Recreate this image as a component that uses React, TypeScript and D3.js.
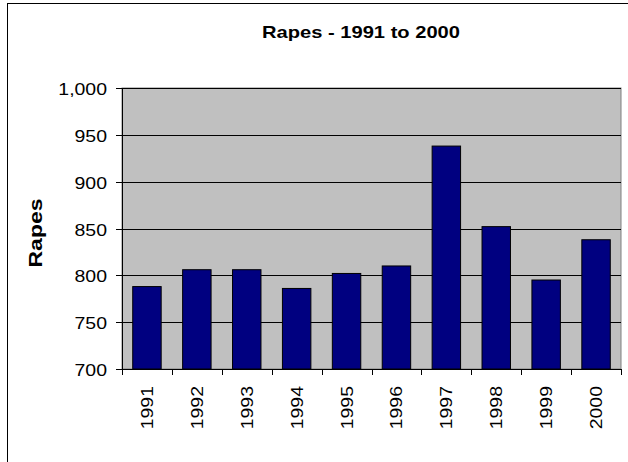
import React from 'react';
import * as d3 from 'd3';

const years = ['1991', '1992', '1993', '1994', '1995', '1996', '1997', '1998', '1999', '2000'];
const rapes = [788, 806, 806, 786, 802, 810, 938, 852, 795, 838];
const yTicks = [700, 750, 800, 850, 900, 950, 1000];

const W = 628;
const H = 462;
const plot = { left: 122, right: 621, top: 88, bottom: 369 };
const font = 'Arial, "Liberation Sans", sans-serif';
// the source image is a bit stretched along the text direction
const stretch = 1.18;

const App: React.FC = () => {
  const x = d3.scaleBand<string>()
    .domain(years)
    .range([plot.left, plot.right])
    .paddingInner(0.43)
    .paddingOuter(0.215);

  const y = d3.scaleLinear()
    .domain([700, 1000])
    .range([plot.bottom, plot.top]);

  const band = (plot.right - plot.left) / years.length;
  const fmt = d3.format(',');

  return (
    <svg width={W} height={H} style={{ position: 'absolute', left: 0, top: 0, background: '#fff' }}>
      {/* chart frame */}
      <rect x={7.5} y={3.5} width={W + 20} height={H + 20} fill="#fff" stroke="#000" />

      <text
        transform={`translate(361,37.5) scale(${stretch + 0.04},1)`}
        textAnchor="middle"
        fontFamily={font}
        fontWeight="bold"
        fontSize={16.5}
      >
        Rapes - 1991 to 2000
      </text>

      {/* plot area */}
      <rect
        x={plot.left}
        y={plot.top}
        width={plot.right - plot.left}
        height={plot.bottom - plot.top}
        fill="#C0C0C0"
        stroke="#808080"
      />

      {yTicks.slice(1).map(t => (
        <line key={t} x1={plot.left} x2={plot.right} y1={Math.round(y(t)) + 0.5} y2={Math.round(y(t)) + 0.5} stroke="#000" />
      ))}

      {years.map((yr, i) => (
        <rect
          key={yr}
          x={x(yr)}
          y={y(rapes[i])}
          width={x.bandwidth()}
          height={plot.bottom - y(rapes[i])}
          fill="#000080"
          stroke="#000"
        />
      ))}

      {/* y axis */}
      <line x1={plot.left + 0.5} x2={plot.left + 0.5} y1={plot.top} y2={plot.bottom + 0.5} stroke="#000" />
      {yTicks.map(t => {
        const ty = Math.round(y(t)) + 0.5;
        return (
          <g key={t}>
            <line x1={plot.left - 6} x2={plot.left} y1={ty} y2={ty} stroke="#000" />
            <text
              transform={`translate(107,${ty + 6}) scale(${stretch},1)`}
              textAnchor="end"
              fontFamily={font}
              fontSize={16.5}
            >
              {fmt(t)}
            </text>
          </g>
        );
      })}

      {/* x axis */}
      <line x1={plot.left} x2={plot.right} y1={plot.bottom + 0.5} y2={plot.bottom + 0.5} stroke="#000" />
      {d3.range(years.length + 1).map(i => {
        const tx = Math.round(plot.left + i * band) + 0.5;
        return <line key={i} x1={tx} x2={tx} y1={plot.bottom} y2={plot.bottom + 6} stroke="#000" />;
      })}
      {years.map(yr => {
        const cx = (x(yr) ?? 0) + x.bandwidth() / 2;
        return (
          <text
            key={yr}
            transform={`translate(${cx + 6},386) rotate(-90) scale(${stretch},1)`}
            textAnchor="end"
            fontFamily={font}
            fontSize={16.5}
          >
            {yr}
          </text>
        );
      })}

      <text
        transform={`translate(41.5,233) rotate(-90) scale(${stretch + 0.1},1)`}
        textAnchor="middle"
        fontFamily={font}
        fontWeight="bold"
        fontSize={18}
      >
        Rapes
      </text>
    </svg>
  );
};

export default App;
